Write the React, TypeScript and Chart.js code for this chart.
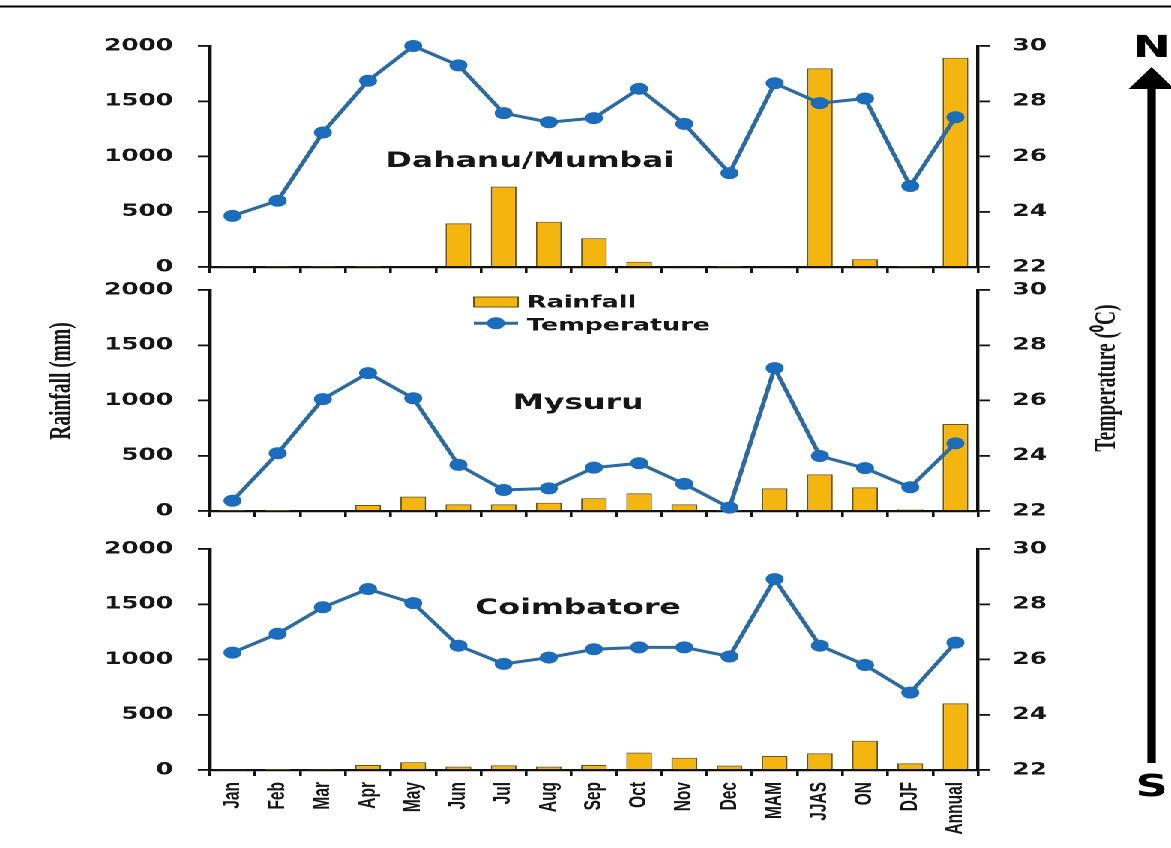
import React, { useEffect, useRef } from 'react';
import { Chart, registerables } from 'chart.js';

Chart.register(...registerables);

// ---------- data ----------
const categories = ['Jan', 'Feb', 'Mar', 'Apr', 'May', 'Jun', 'Jul', 'Aug', 'Sep', 'Oct', 'Nov', 'Dec', 'MAM', 'JJAS', 'ON', 'DJF', 'Annual'];

const mumbaiRain = [6, 4, 3, 3, 8, 395, 727, 410, 260, 48, 10, 4, 10, 1798, 70, 5, 1894];
const mumbaiTemp = [23.85, 24.4, 26.87, 28.74, 30.0, 29.3, 27.57, 27.24, 27.39, 28.45, 27.18, 25.4, 28.65, 27.93, 28.1, 24.93, 27.42];

const mysuruRain = [3, 2, 8, 54, 130, 60, 60, 75, 115, 160, 60, 5, 205, 332, 214, 15, 787];
const mysuruTemp = [22.37, 24.09, 26.05, 26.99, 26.08, 23.67, 22.76, 22.82, 23.57, 23.73, 22.98, 22.12, 27.17, 23.99, 23.55, 22.86, 24.45];

const coimbatoreRain = [6, 2, 5, 45, 70, 30, 42, 30, 45, 157, 111, 40, 127, 151, 265, 60, 603];
const coimbatoreTemp = [26.25, 26.93, 27.89, 28.55, 28.04, 26.5, 25.84, 26.07, 26.37, 26.44, 26.44, 26.11, 28.91, 26.5, 25.8, 24.8, 26.61];

const rainTicks = [0, 500, 1000, 1500, 2000];
const tempTicks = [22, 24, 26, 28, 30];

const panelTitles = ['Dahanu/Mumbai', 'Mysuru', 'Coimbatore'];
const rainSeries = [mumbaiRain, mysuruRain, coimbatoreRain];
const tempSeries = [mumbaiTemp, mysuruTemp, coimbatoreTemp];

// ---------- layout / style ----------
const W = 781;
const H = 848;
const STRETCH = 1171 / W;
const AREA_LEFT = 140;
const AREA_RIGHT = 652.3;

const BAR_FILL = '#F4B60E';
const BAR_EDGE = '#6A5418';
const LINE_COLOR = '#2C6AA2';
const MARKER_COLOR = '#1B6CBC';
const INK = '#161616';
const AXIS = '#111111';

const panelLayout = [
  { top: 46, bottom: 267, titleX: 353.5, titleY: 167, legend: false, labels: false, decor: false },
  { top: 290, bottom: 511, titleX: 385.5, titleY: 409, legend: true, labels: false, decor: false },
  { top: 549, bottom: 770, titleX: 385.5, titleY: 614, legend: false, labels: true, decor: true },
];

const tickFont = { family: '"DejaVu Sans"', weight: 'bold' as const, size: 16.5 };

const panelPlugin = {
  id: 'panelDecor',
  afterDraw(chart: any, _args: any, opts: any) {
    const ctx = chart.ctx as CanvasRenderingContext2D;
    ctx.save();
    // panel title
    ctx.fillStyle = INK;
    ctx.font = 'bold 21px "DejaVu Sans"';
    ctx.textAlign = 'center';
    ctx.textBaseline = 'alphabetic';
    ctx.fillText(opts.title, opts.titleX, opts.titleY);

    if (opts.legend) {
      const ds = chart.data.datasets;
      const barDs = ds.find((d: any) => d.type === 'bar');
      const lineDs = ds.find((d: any) => d.type === 'line');
      const lx = 316, lw = 29.5, tx = 351.4;
      // rainfall swatch
      ctx.fillStyle = BAR_FILL;
      ctx.fillRect(lx, 297, lw, 10);
      ctx.strokeStyle = BAR_EDGE;
      ctx.lineWidth = 1;
      ctx.strokeRect(lx, 297, lw, 10);
      // temperature swatch
      ctx.strokeStyle = LINE_COLOR;
      ctx.lineWidth = 3;
      ctx.beginPath();
      ctx.moveTo(lx, 323.3);
      ctx.lineTo(lx + lw, 323.3);
      ctx.stroke();
      ctx.fillStyle = MARKER_COLOR;
      ctx.beginPath();
      ctx.arc(lx + lw / 2, 323.3, 6, 0, Math.PI * 2);
      ctx.fill();
      ctx.fillStyle = INK;
      ctx.font = 'bold 17px "DejaVu Sans"';
      ctx.textAlign = 'left';
      ctx.fillText(barDs.label, tx, 307.4);
      ctx.fillText(lineDs.label, tx, 330.7);
    }

    if (opts.decor) {
      // top rule
      ctx.fillStyle = '#000';
      ctx.fillRect(0, 5.5, W, 2);
      // axis titles
      ctx.fillStyle = INK;
      ctx.font = 'bold 19.5px "Liberation Serif"';
      ctx.textAlign = 'center';
      ctx.textBaseline = 'middle';
      ctx.save();
      ctx.translate(41.3, 381);
      ctx.rotate(-Math.PI / 2);
      ctx.fillText('Rainfall (mm)', 0, 0);
      ctx.restore();
      ctx.save();
      ctx.translate(738.7, 378);
      ctx.rotate(-Math.PI / 2);
      ctx.fillText('Temperature (\u2070C)', 0, 0);
      ctx.restore();
      // N-S arrow
      const ax = 768;
      ctx.fillStyle = '#000';
      ctx.fillRect(ax - 2.8, 85, 5.6, 763 - 85);
      ctx.beginPath();
      ctx.moveTo(ax, 67);
      ctx.lineTo(ax + 15.3, 89);
      ctx.lineTo(ax - 15.3, 89);
      ctx.closePath();
      ctx.fill();
      ctx.font = 'bold 30px "DejaVu Sans"';
      ctx.textAlign = 'center';
      ctx.textBaseline = 'alphabetic';
      ctx.fillText('N', ax, 57);
      ctx.fillText('S', ax, 796);
    }
    ctx.restore();
  },
};

const plainNumber = (v: any) => String(v);

function buildConfig(i: number): any {
  const p = panelLayout[i];
  return {
    type: 'bar',
    data: {
      labels: categories,
      datasets: [
        {
          type: 'line',
          label: 'Temperature',
          data: tempSeries[i],
          yAxisID: 'yT',
          borderColor: LINE_COLOR,
          borderWidth: 3,
          pointRadius: 6,
          pointBackgroundColor: MARKER_COLOR,
          pointBorderColor: MARKER_COLOR,
          pointBorderWidth: 0,
          tension: 0,
          clip: false,
          order: 0,
        },
        {
          type: 'bar',
          label: 'Rainfall',
          data: rainSeries[i],
          yAxisID: 'yR',
          backgroundColor: BAR_FILL,
          borderColor: BAR_EDGE,
          borderWidth: 1,
          barPercentage: 0.57,
          categoryPercentage: 1,
          order: 1,
        },
      ],
    },
    options: {
      responsive: false,
      animation: false,
      devicePixelRatio: 2,
      layout: { padding: { top: p.top, left: 0, right: 0, bottom: 0 } },
      plugins: {
        legend: { display: false },
        tooltip: { enabled: false },
        panelDecor: { title: panelTitles[i], titleX: p.titleX, titleY: p.titleY, legend: p.legend, decor: p.decor },
      },
      scales: {
        x: {
          offset: true,
          grid: { display: true, drawOnChartArea: false, drawTicks: true, tickLength: 6, color: AXIS, lineWidth: 1.8, offset: true },
          border: { display: true, color: AXIS, width: 2.2 },
          ticks: {
            display: p.labels,
            autoSkip: false,
            minRotation: 90,
            maxRotation: 90,
            padding: 6,
            color: INK,
            font: { family: '"Liberation Sans"', weight: 'bold', size: 15.5 },
          },
          afterFit: (s: any) => { s.height = H - p.bottom; },
        },
        yR: {
          position: 'left',
          min: 0,
          max: 2000,
          afterBuildTicks: (s: any) => { s.ticks = rainTicks.map((v) => ({ value: v })); },
          ticks: { padding: 16.5, color: INK, font: tickFont, callback: plainNumber },
          grid: { display: true, drawOnChartArea: false, drawTicks: true, tickLength: 8, color: AXIS, lineWidth: 1.8 },
          border: { display: true, color: AXIS, width: 2.2 },
          afterFit: (s: any) => { s.width = AREA_LEFT; },
        },
        yT: {
          position: 'right',
          min: 22,
          max: 30,
          afterBuildTicks: (s: any) => { s.ticks = tempTicks.map((v) => ({ value: v })); },
          ticks: { padding: 15, color: INK, font: tickFont, callback: plainNumber },
          grid: { display: true, drawOnChartArea: false, drawTicks: true, tickLength: 8, color: AXIS, lineWidth: 1.8 },
          border: { display: true, color: AXIS, width: 2.2 },
          afterFit: (s: any) => { s.width = W - AREA_RIGHT; },
        },
      },
    },
    plugins: [panelPlugin],
  };
}

function Panel({ index }: { index: number }) {
  const ref = useRef<HTMLCanvasElement>(null);
  useEffect(() => {
    if (!ref.current) return;
    const chart = new Chart(ref.current, buildConfig(index));
    return () => chart.destroy();
  }, [index]);
  return <canvas ref={ref} width={W} height={H} style={{ position: 'absolute', left: 0, top: 0 }} />;
}

export default function App() {
  useEffect(() => {
    document.body.style.overflow = 'hidden';
  }, []);
  return (
    <div
      style={{
        position: 'absolute',
        left: 0,
        top: 0,
        width: W,
        height: H,
        background: '#fff',
        transform: `scaleX(${STRETCH})`,
        transformOrigin: '0 0',
      }}
    >
      {panelTitles.map((_, i) => (
        <Panel key={i} index={i} />
      ))}
    </div>
  );
}
